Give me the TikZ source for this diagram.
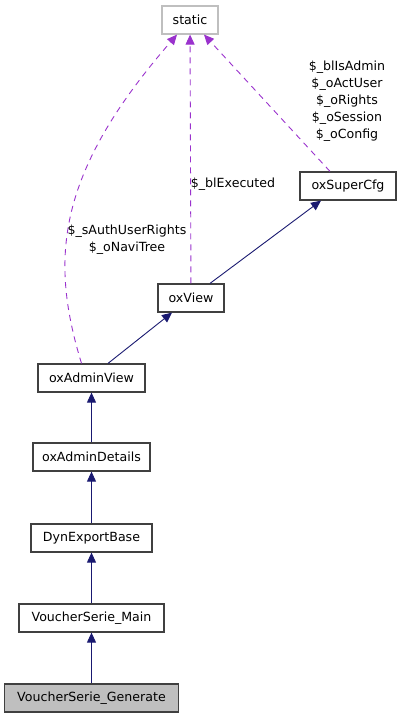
\documentclass[tikz,border=0pt]{standalone}
\usepackage{fontspec}
\setmainfont{DejaVu Sans}
\usetikzlibrary{arrows.meta}
\definecolor{kante}{RGB}{25,25,112}
\definecolor{lila}{RGB}{154,50,205}
\definecolor{rand}{RGB}{64,64,64}
\definecolor{grau}{RGB}{191,191,191}
\begin{document}
\begin{tikzpicture}
[x=1pt,y=-1pt,
font=\fontsize{12.6}{17}\selectfont,
klasse/.style={draw=rand,line width=1.2pt,minimum height=28pt,inner sep=0pt},
klassea/.style={klasse,fill=grau},
leer/.style={klasse,draw=grau},
erbt/.style={draw=kante,line width=0.9pt,-{Triangle[length=10pt,width=9pt]}},
nutzt/.style={draw=lila,line width=0.9pt,dash pattern=on 6pt off 5pt,-{Triangle[length=10pt,width=9pt]}},
marke/.style={align=center,inner sep=0pt},
]
\useasboundingbox (0,0) rectangle (401,717);

\node[leer,minimum width=56pt] (static) at (190,20){static};
\node[klasse,minimum width=96pt] (SuperCfg) at (348,186){oxSuperCfg};
\node[klasse,minimum width=66pt] (View) at (191,298){oxView};
\node[klasse,minimum width=107pt] (AdminView) at (91.5,378){oxAdminView};
\node[klasse,minimum width=117pt] (AdminDetails) at (91.5,457){oxAdminDetails};
\node[klasse,minimum width=121pt] (ExportBase) at (91.5,538){DynExportBase};
\node[klasse,minimum width=145pt] (SerieMain) at (91.5,618){VoucherSerie\_Main};
\node[klassea,minimum width=174pt] (SerieGenerate) at (91.5,698){VoucherSerie\_Generate};

\draw[erbt] (SerieGenerate) -- (SerieMain);
\draw[erbt] (SerieMain) -- (ExportBase);
\draw[erbt] (ExportBase) -- (AdminDetails);
\draw[erbt] (AdminDetails) -- (AdminView);
\draw[erbt] ([xshift=16.5pt]AdminView.north) -- ([xshift=-19pt]View.south);
\draw[erbt] ([xshift=19pt]View.north) -- ([xshift=-27pt]SuperCfg.south);

\draw[nutzt] ([xshift=-10pt]AdminView.north) .. controls (50,260) and (55,175) .. ([xshift=-13pt]static.south);
\draw[nutzt] (View) -- (static);
\draw[nutzt] ([xshift=-18pt]SuperCfg.north) -- ([xshift=14pt]static.south);

\node[marke] (L1) at (127,240){\$\_sAuthUserRights\\\$\_oNaviTree};
\node[marke] (L2) at (233,184){\$\_blExecuted};
\node[marke] (L3) at (347,101){\$\_blIsAdmin\\\$\_oActUser\\\$\_oRights\\\$\_oSession\\\$\_oConfig};
\end{tikzpicture}
\end{document}
